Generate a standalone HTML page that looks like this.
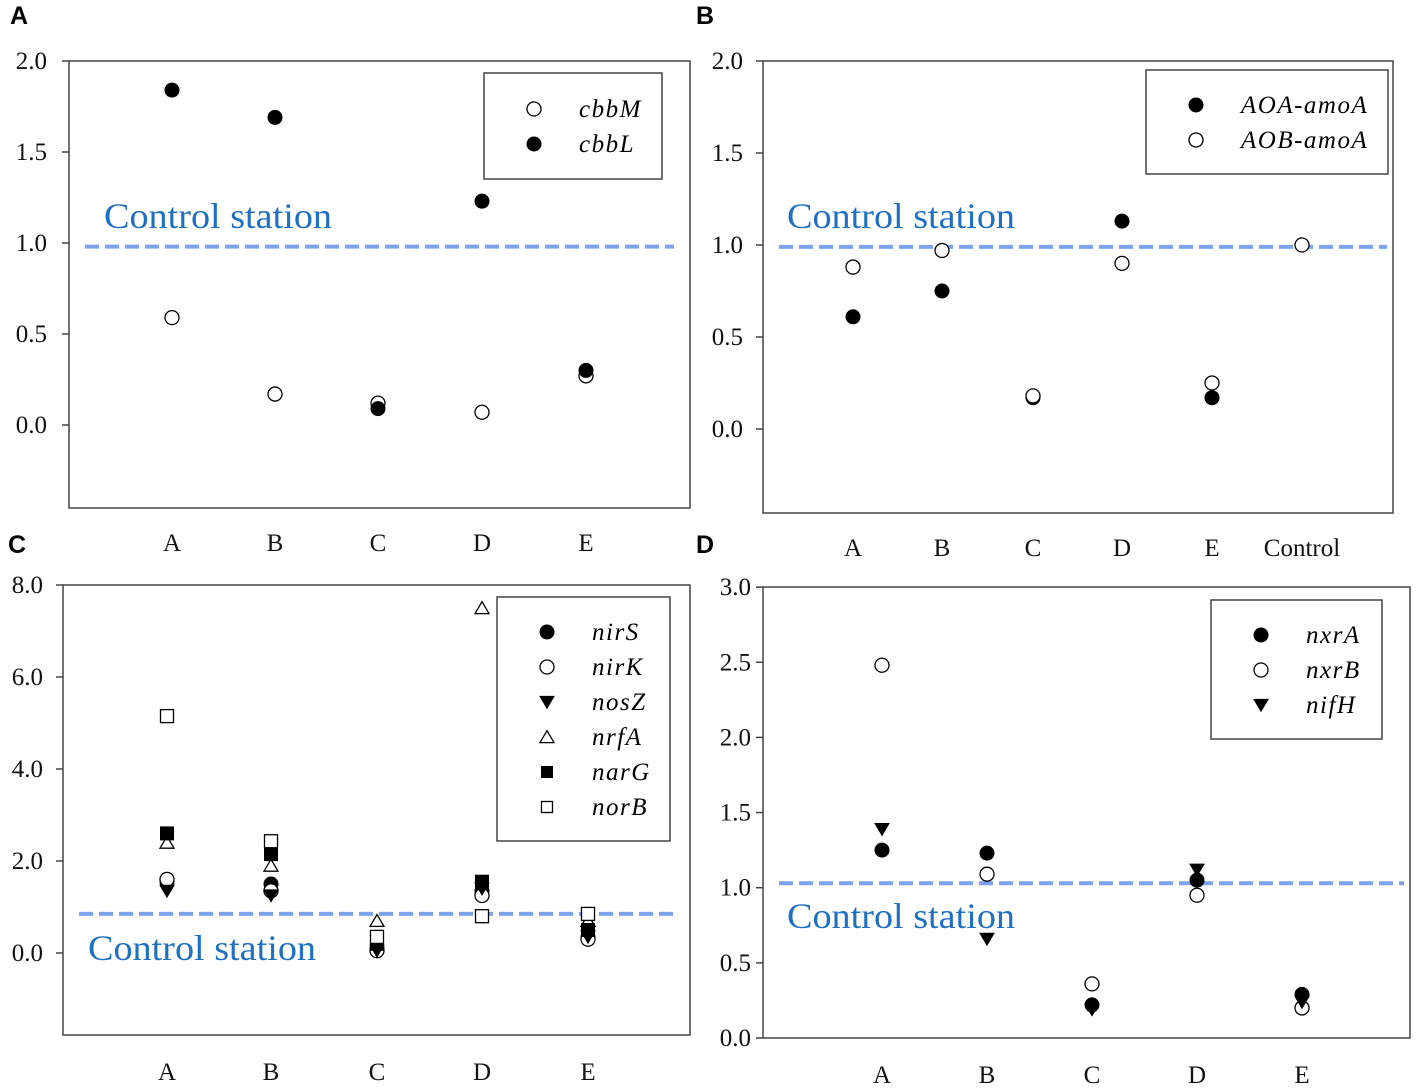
<!DOCTYPE html>
<html><head><meta charset="utf-8"><style>
body{margin:0;background:#fff;width:1417px;height:1091px;overflow:hidden}
svg{display:block}
text{font-family:"Liberation Serif",serif}
</style></head><body>
<svg id="fig" width="1417" height="1091" viewBox="0 0 1417 1091"></svg>
<script>
// Panel A data
const aCats=["A","B","C","D","E"];
const aCbbM=[0.59,0.17,0.12,0.07,0.27];
const aCbbL=[1.84,1.69,0.09,1.23,0.30];
const aTicks=[0,0.5,1.0,1.5,2.0];
const aControl=0.98;
// Panel B data
const bCats=["A","B","C","D","E","Control"];
const bAOA=[0.61,0.75,0.17,1.13,0.17,null];
const bAOB=[0.88,0.97,0.18,0.90,0.25,1.0];
const bTicks=[0,0.5,1.0,1.5,2.0];
const bControl=0.99;
// Panel C data
const cCats=["A","B","C","D","E"];
const cNirS=[1.55,1.5,0.1,1.35,0.35];
const cNirK=[1.6,1.35,0.05,1.25,0.3];
const cNosZ=[1.35,1.25,0.05,1.4,0.35];
const cNrfA=[2.4,1.9,0.7,7.5,0.7];
const cNarG=[2.6,2.15,0.2,1.55,0.5];
const cNorB=[5.15,2.43,0.35,0.8,0.85];
const cTicks=[0,2,4,6,8];
const cControl=0.85;
// Panel D data
const dCats=["A","B","C","D","E"];
const dNxrA=[1.25,1.23,0.22,1.05,0.29];
const dNxrB=[2.48,1.09,0.36,0.95,0.20];
const dNifH=[1.39,0.66,0.19,1.12,0.24];
const dTicks=[0,0.5,1.0,1.5,2.0,2.5,3.0];
const dControl=1.03;

const NS="http://www.w3.org/2000/svg";
const svg=document.getElementById('fig');
function mk(tag,attrs,parent,txt){const e=document.createElementNS(NS,tag);for(const k in attrs)e.setAttribute(k,attrs[k]);if(txt!==undefined)e.textContent=txt;(parent||svg).appendChild(e);return e;}

function marker(g,type,x,y,s){
  s=s||7;let e;
  if(type==='fc'||type==='oc'){e=mk('circle',{cx:x,cy:y,r:s},g);}
  else if(type==='fs'||type==='os'){e=mk('rect',{x:x-s+0.5,y:y-s+0.5,width:2*s-1,height:2*s-1},g);}
  else if(type==='fd'){e=mk('polygon',{points:`${x-s},${y-s*0.8} ${x+s},${y-s*0.8} ${x},${y+s*0.9}`},g);}
  else if(type==='ou'){e=mk('polygon',{points:`${x-s},${y+s*0.8} ${x+s},${y+s*0.8} ${x},${y-s*0.9}`},g);}
  const filled=type[0]==='f';
  e.setAttribute('fill',filled?'#000':'#fff');
  e.setAttribute('stroke','#000');
  e.setAttribute('stroke-width',filled?1:1.3);
  
  
  return e;
}

function panel(o){
  const g=mk('g',{});
  
  
  const y=v=>o.y0-(v)*o.ppu;
  const lab=mk('text',{x:o.labX,y:o.labY,'font-size':25,'font-weight':'bold',style:'font-family:"Liberation Sans",sans-serif'},g,o.id);
  
  
  const box=mk('rect',{x:o.L,y:o.T,width:o.R-o.L,height:o.B-o.T,fill:'none',stroke:'#444','stroke-width':1.5},g);
  
  
  o.ticks.forEach(t=>{
    const ty=y(t);
    const tk=mk('line',{x1:o.L-7,x2:o.L,y1:ty,y2:ty,stroke:'#444','stroke-width':1.5},g);
    
    
    const tl=mk('text',{x:o.L-o.tickGap,y:ty+8,'font-size':25,'text-anchor':'end',fill:'#111'},g,t.toFixed(1));
    
    
  });
  o.cats.forEach((c,i)=>{
    const xl=mk('text',{x:o.xs[i],y:o.catY,'font-size':25,'text-anchor':'middle',fill:'#111'},g,c);
    
    
  });
  const cl=mk('line',{x1:o.L+16,x2:o.R-o.lineEnd,y1:y(o.control),y2:y(o.control),stroke:'#7da3ef','stroke-width':4,'stroke-dasharray':'14 6'},g);
  
  
  const ct=mk('text',{x:o.ctX,y:o.ctY,'font-size':36,fill:'#1f6fc2',textLength:228,lengthAdjust:'spacingAndGlyphs'},g,'Control station');
  
  
  o.series.forEach(s=>{
    s.v.forEach((v,i)=>{if(v!==null)marker(g,s.m,o.xs[i],y(v));});
  });
  const lg=mk('g',{},g);
  
  
  mk('rect',{x:o.lg[0],y:o.lg[1],width:o.lg[2],height:o.lg[3],fill:'#fff',stroke:'#444','stroke-width':1.5},lg);
  o.series.forEach((s,i)=>{
    const yy=o.lg[1]+o.lgTop+i*o.lgStep;
    marker(lg,s.m,o.lg[0]+o.lgMx,yy,s.m.endsWith('s')?6:7);
    const t=mk('text',{x:o.lg[0]+o.lgTx,y:yy+8,'font-size':25,'font-style':'italic','letter-spacing':1.5},lg,s.n);
    
    
  });
}

panel({id:'A',labX:10,labY:24,L:69,R:690,T:61,B:508,y0:425,ppu:182,ticks:aTicks,tickGap:22,lineEnd:16,
  cats:aCats,xs:[172,275,378,482,586],catY:551,control:aControl,ctX:104,ctY:228,
  series:[{n:'cbbM',m:'oc',v:aCbbM},{n:'cbbL',m:'fc',v:aCbbL}],
  lg:[484,73,178,106],lgTop:36,lgStep:35,lgMx:50,lgTx:95});
panel({id:'B',labX:696,labY:24,L:763,R:1393,T:61,B:513,y0:429,ppu:184,ticks:bTicks,tickGap:20,lineEnd:6,
  cats:bCats,xs:[853,942,1033,1122,1212,1302],catY:556,control:bControl,ctX:787,ctY:228,
  series:[{n:'AOA-amoA',m:'fc',v:bAOA},{n:'AOB-amoA',m:'oc',v:bAOB}],
  lg:[1146,70,242,104],lgTop:35,lgStep:35,lgMx:50,lgTx:95});
panel({id:'C',labX:8,labY:553,L:63,R:690,T:585,B:1035,y0:953,ppu:46,ticks:cTicks,tickGap:20,lineEnd:16,
  cats:cCats,xs:[167,271,377,482,588],catY:1080,control:cControl,ctX:88,ctY:960,
  series:[{n:'nirS',m:'fc',v:cNirS},{n:'nirK',m:'oc',v:cNirK},{n:'nosZ',m:'fd',v:cNosZ},{n:'nrfA',m:'ou',v:cNrfA},{n:'narG',m:'fs',v:cNarG},{n:'norB',m:'os',v:cNorB}],
  lg:[497,597,173,244],lgTop:35,lgStep:35,lgMx:50,lgTx:95});
panel({id:'D',labX:696,labY:553,L:763,R:1410,T:587,B:1038,y0:1038,ppu:150.3,ticks:dTicks,tickGap:12,lineEnd:6,
  cats:dCats,xs:[882,987,1092,1197,1302],catY:1083,control:dControl,ctX:787,ctY:928,
  series:[{n:'nxrA',m:'fc',v:dNxrA},{n:'nxrB',m:'oc',v:dNxrB},{n:'nifH',m:'fd',v:dNifH}],
  lg:[1211,600,171,139],lgTop:35,lgStep:35,lgMx:50,lgTx:95});
</script>
</body></html>
